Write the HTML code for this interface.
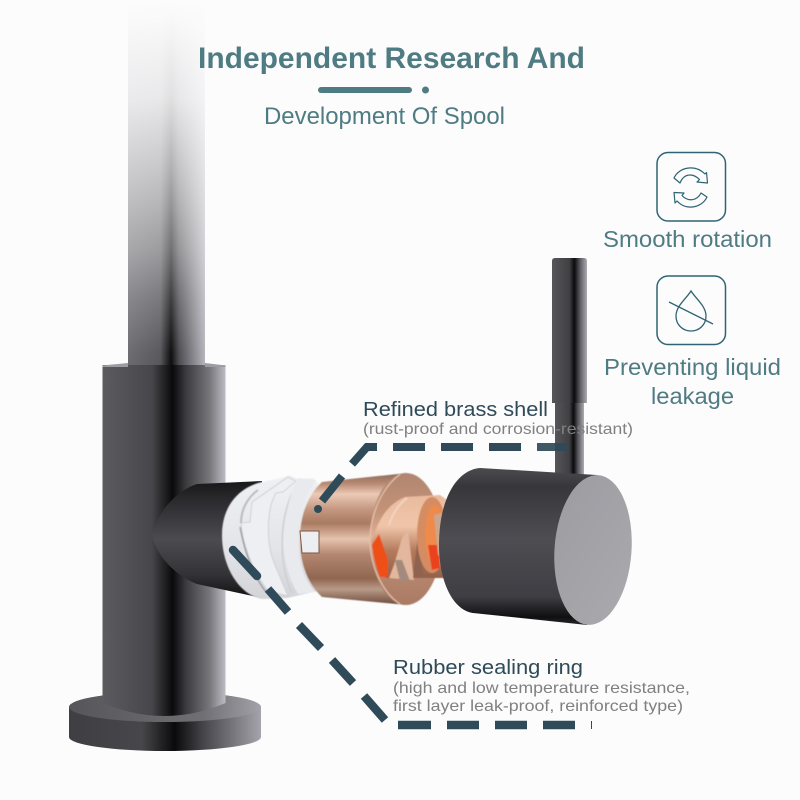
<!DOCTYPE html>
<html><head><meta charset="utf-8"><style>
html,body{margin:0;padding:0;background:#fcfcfd}
svg{display:block}
text{font-family:"Liberation Sans",sans-serif}
</style></head><body>
<svg width="800" height="800" viewBox="0 0 800 800" xmlns="http://www.w3.org/2000/svg">
<defs>
<linearGradient id="sp" x1="0" x2="1" y1="0" y2="0"><stop offset="0" stop-color="#6a6a6f"/><stop offset=".42" stop-color="#56565b"/><stop offset=".56" stop-color="#0b0b0d"/><stop offset=".66" stop-color="#4a4a4f"/><stop offset="1" stop-color="#b4b4bb"/></linearGradient>
<linearGradient id="fade" x1="0" x2="0" y1="0" y2="1">
<stop offset="0" stop-color="#fcfcfd" stop-opacity="1"/>
<stop offset=".06" stop-color="#fcfcfd" stop-opacity=".98"/>
<stop offset=".27" stop-color="#fcfcfd" stop-opacity=".88"/>
<stop offset=".46" stop-color="#fcfcfd" stop-opacity=".68"/>
<stop offset=".55" stop-color="#fcfcfd" stop-opacity=".58"/>
<stop offset=".68" stop-color="#fcfcfd" stop-opacity=".42"/>
<stop offset=".82" stop-color="#fcfcfd" stop-opacity=".2"/>
<stop offset=".96" stop-color="#fcfcfd" stop-opacity=".02"/>
<stop offset="1" stop-color="#fcfcfd" stop-opacity="0"/>
</linearGradient>
<linearGradient id="bd" x1="0" x2="1" y1="0" y2="0"><stop offset="0" stop-color="#5c5c60"/><stop offset=".4" stop-color="#47474b"/><stop offset=".57" stop-color="#0a0a0c"/><stop offset=".68" stop-color="#3b3b40"/><stop offset=".87" stop-color="#76767b"/><stop offset="1" stop-color="#bcbcc2"/></linearGradient>
<linearGradient id="ba" x1="0" x2="1" y1="0" y2="0"><stop offset="0" stop-color="#3f3f43"/><stop offset=".38" stop-color="#47474b"/><stop offset=".55" stop-color="#0a0a0c"/><stop offset=".7" stop-color="#45454a"/><stop offset="1" stop-color="#a4a4aa"/></linearGradient>
<linearGradient id="bt" x1="0" x2="1" y1="0" y2="0"><stop offset="0" stop-color="#55555a"/><stop offset=".7" stop-color="#6f6f74"/><stop offset="1" stop-color="#a2a2a8"/></linearGradient>
<linearGradient id="cn" x1="0" x2="0" y1="0" y2="1"><stop offset="0" stop-color="#18181a"/><stop offset=".18" stop-color="#2c2c30"/><stop offset=".5" stop-color="#4b4b50"/><stop offset=".8" stop-color="#333337"/><stop offset="1" stop-color="#111113"/></linearGradient>
<linearGradient id="cu" gradientUnits="userSpaceOnUse" x1="0" x2="0" y1="473" y2="605"><stop offset="0" stop-color="#8d6a58"/><stop offset=".08" stop-color="#b78a73"/><stop offset=".16" stop-color="#eccab6"/><stop offset=".27" stop-color="#c59a82"/><stop offset=".38" stop-color="#a97a61"/><stop offset=".5" stop-color="#e6c2ad"/><stop offset=".62" stop-color="#b28670"/><stop offset=".8" stop-color="#90664f"/><stop offset=".88" stop-color="#b99a88"/><stop offset="1" stop-color="#6c4a3a"/></linearGradient>
<linearGradient id="dc" gradientUnits="userSpaceOnUse" x1="0" x2="0" y1="473" y2="605"><stop offset="0" stop-color="#b08570"/><stop offset=".3" stop-color="#c49478"/><stop offset=".48" stop-color="#e0b094"/><stop offset=".72" stop-color="#b98870"/><stop offset="1" stop-color="#a97a64"/></linearGradient>
<linearGradient id="cs" gradientUnits="userSpaceOnUse" x1="0" x2="0" y1="497" y2="580"><stop offset="0" stop-color="#eabb9e"/><stop offset=".35" stop-color="#f0c6aa"/><stop offset=".65" stop-color="#b4795c"/><stop offset="1" stop-color="#8f6049"/></linearGradient>
<linearGradient id="hd" x1="0" x2="0" y1="0" y2="1"><stop offset="0" stop-color="#4a4a4f"/><stop offset=".12" stop-color="#37373b"/><stop offset=".45" stop-color="#4d4d52"/><stop offset=".82" stop-color="#3e3e43"/><stop offset=".95" stop-color="#0f0f11"/><stop offset="1" stop-color="#2a2a2d"/></linearGradient>
<linearGradient id="lv" x1="0" x2="1" y1="0" y2="0"><stop offset="0" stop-color="#55555a"/><stop offset=".5" stop-color="#3f3f44"/><stop offset=".64" stop-color="#0b0b0d"/><stop offset=".8" stop-color="#5a5a60"/><stop offset="1" stop-color="#acacb2"/></linearGradient>
<linearGradient id="fc" x1="0" x2="1" y1="0" y2="1"><stop offset="0" stop-color="#9c9ca1"/><stop offset="1" stop-color="#a9a9ae"/></linearGradient>
<linearGradient id="wh" x1="0" x2="0" y1="0" y2="1"><stop offset="0" stop-color="#f0f1f4"/><stop offset=".6" stop-color="#e3e4e8"/><stop offset="1" stop-color="#d3d4d8"/></linearGradient>
<filter id="sf" x="-5%" y="-5%" width="110%" height="110%"><feGaussianBlur stdDeviation=".6"/></filter>
</defs>

<rect width="800" height="800" fill="#fcfcfd"/>

<!-- spout -->
<rect x="128" y="0" width="77" height="368" fill="url(#sp)"/>
<rect x="128" y="0" width="77" height="368" fill="url(#fade)"/>

<!-- base -->
<path d="M69 707 A96 15 0 0 1 261 707 L261 737 A96 14 0 0 1 69 737Z" fill="url(#ba)"/>
<ellipse cx="165" cy="707" rx="96" ry="15" fill="url(#bt)"/>
<!-- body -->
<path d="M102.500 365 L225.500 365 L225.500 703 Q165 729 102.500 703Z" fill="url(#bd)"/>
<path d="M102.500 365.500 Q128 363 128 363 L128 367 L102.500 367Z M205 363 L225.500 365.500 L225.500 367 L205 367Z" fill="#9c9ca2"/>

<!-- dark connector -->
<path d="M152 535 C158 510 178 490 197 484 L262 481 L262 598 L197 584 C176 576 156 556 152 535Z" fill="url(#cn)"/>

<!-- white sealing ring -->
<g filter="url(#sf)">
<path d="M222 535 C222 505 240 487 262 482 L285 477 L290 475 L297 479 L313 478 L318 483 L322 590 L300 595 L287 598 L262 599 C240 595 222 568 222 535Z" fill="url(#wh)"/>
<path d="M241 523 C241 510 247 498 258 490" fill="none" stroke="#b9bac0" stroke-width="2"/>
<path d="M241 523 L250 522 L252 502 L288 477 L296 481 L283 492 L276 493 C266 510 266 545 275 565 L288 596 L268 591 C252 570 243 545 241 523Z" fill="#eeeff2" stroke="#c8c9ce" stroke-width=".8"/>
<path d="M300 480 C280 505 276 560 292 593" fill="none" stroke="#cdced3" stroke-width="1.500"/>
<path d="M240 527 C245 555 255 578 266 592" fill="none" stroke="#55565c" stroke-width="1.200" opacity=".6"/>
<path d="M297 478 L316 480 C304 496 298 516 298 540 C298 562 304 582 316 592 L298 594 C287 575 283 555 284 535 C285 515 290 495 297 478Z" fill="#e9eaee"/>
</g>

<!-- copper cylinder -->
<g filter="url(#sf)">
<path d="M322 482 L407 473 L407 605 L322 597 C306 582 300 560 300 540 C300 515 308 495 322 482Z" fill="url(#cu)"/>
<ellipse cx="406" cy="539" rx="36" ry="66" fill="url(#dc)"/>
<path d="M400 474.500 C382 487 370 515 370 540 C370 565 382 592 400 604" fill="none" stroke="#e6c1ab" stroke-width="1.200"/>
<path d="M372 543 C376 525 385 505 405 497 L440 495 L447 500 L447 578 L420 578 L386 578 Q374 565 372 543Z" fill="url(#cs)"/>
<path d="M372 545 L379 534 L388 560 L388 577 L380 577 Q374 562 372 545Z" fill="#ee4f14"/>
<path d="M389 578 L394 565 L402 538 L408 530 L414 580Z" fill="#e3b79e"/>
<path d="M395 560 L402 560 L410 581 L400 581Z" fill="#a38a7c"/>
<path d="M413 578 L418 535 L424 578Z" fill="#8f6450"/>
<path d="M407 498 C398 505 392 515 389 525" fill="none" stroke="#f2d4c0" stroke-width="2"/>
<ellipse cx="432" cy="535" rx="15" ry="38" fill="#d58c62"/>
<ellipse cx="435" cy="535" rx="10" ry="30" fill="#ee8a4c"/>
<path d="M428 545 L438 545 L440 568 L432 570Z" fill="#e9421a"/>
<path d="M434 515 L447 512 L447 560 L438 555Z" fill="#c9a78f"/>
</g>
<!-- notch -->
<path d="M300 531 L319 531 L319 553 L302 553Z" fill="#eceef1" stroke="#7a5643" stroke-width="1"/>

<!-- lever -->
<path d="M555 403 L584 403 L584 482 L555 482Z" fill="url(#lv)"/>
<path d="M552 261 Q552 258 555 258 L584 258 Q587 258 587 261 L587 403 L552 403Z" fill="url(#lv)"/>

<!-- handle -->
<path d="M597 475 L480 468 C456 470 439 500 439 545 C439 580 452 610 473 613 L587 625Z" fill="url(#hd)"/>
<ellipse cx="593" cy="550" rx="38.500" ry="75" transform="rotate(4 593 550)" fill="url(#fc)"/>

<!-- dashes top callout -->
<g stroke="#2f4a58" stroke-width="8" fill="none">
<line x1="393" y1="447" x2="425" y2="447"/>
<line x1="441" y1="447" x2="473" y2="447"/>
<line x1="489" y1="447" x2="521" y2="447"/>
<line x1="537" y1="447" x2="568" y2="447" opacity=".92"/>
<path d="M377 447 L367 447 L352 464"/>
<line x1="342" y1="476" x2="322" y2="501"/>
</g>
<circle cx="318" cy="509" r="4" fill="#2f4a58"/>

<!-- dashes bottom callout -->
<g stroke="#2f4a58" stroke-width="8.500" fill="none">
<line x1="233" y1="550" x2="257" y2="576" stroke-linecap="round"/>
<line x1="268" y1="589" x2="288" y2="612"/>
<line x1="299" y1="625" x2="321" y2="648"/>
<line x1="332" y1="660" x2="353" y2="683"/>
<line x1="364" y1="696" x2="385" y2="720"/>
<line x1="398" y1="725" x2="431" y2="725"/>
<line x1="447" y1="725" x2="479" y2="725"/>
<line x1="495" y1="725" x2="527" y2="725"/>
<line x1="543" y1="725" x2="575" y2="725"/>
</g>
<line x1="591.500" y1="721" x2="591.500" y2="729" stroke="#2f4a58" stroke-width="1"/>

<!-- title -->
<text x="198" y="68" font-size="30" font-weight="bold" fill="#4f7b82" textLength="387" lengthAdjust="spacingAndGlyphs">Independent Research And</text>
<rect x="318" y="87" width="94" height="6" rx="3" fill="#4f7b82"/>
<circle cx="425.500" cy="90" r="3.500" fill="#4f7b82"/>
<text x="264" y="124" font-size="24" fill="#4f7b82" textLength="241" lengthAdjust="spacingAndGlyphs">Development Of Spool</text>

<!-- icons -->
<rect x="657" y="152.500" width="68.500" height="68.500" rx="11" fill="none" stroke="#2f6472" stroke-width="1.500"/>
<rect x="657" y="276" width="68.500" height="68.500" rx="11" fill="none" stroke="#2f6472" stroke-width="1.500"/>
<path d="M674 178 C679 167 695 164 705 174 L706.500 172.500 L707.500 183 L697 182 L699.500 179.500 C693 173 684 173 680 183Z" fill="none" stroke="#2f6472" stroke-width="1.200" stroke-linejoin="round"/>
<path d="M707 197 C702 208 686 211 677 201 L675 203 L674 192.500 L684 193 L682 195.500 C688 202 697 201 701 193Z" fill="none" stroke="#2f6472" stroke-width="1.200" stroke-linejoin="round"/>
<path d="M691 291 C686 299 676 306 676 316 C676 325 683 331 691 331 C699 331 706 325 706 316 C706 306 696 299 691 291Z" fill="none" stroke="#2f6472" stroke-width="1.300"/>
<line x1="669" y1="302" x2="713" y2="324" stroke="#2f6472" stroke-width="1.300"/>

<text x="603" y="247" font-size="23" fill="#4f7b82" textLength="169" lengthAdjust="spacingAndGlyphs">Smooth rotation</text>
<text x="604" y="375" font-size="23" fill="#4f7b82" textLength="177" lengthAdjust="spacingAndGlyphs">Preventing liquid</text>
<text x="651" y="404" font-size="23" fill="#4f7b82" textLength="83" lengthAdjust="spacingAndGlyphs">leakage</text>

<!-- labels -->
<text x="363" y="416" font-size="20.500" fill="#2f4a58" textLength="185" lengthAdjust="spacingAndGlyphs">Refined brass shell</text>
<text x="363" y="434" font-size="16" fill="#808080" textLength="270" lengthAdjust="spacingAndGlyphs">(rust-proof and corrosion-resistant)</text>
<text x="393" y="674" font-size="20.500" fill="#2f4a58" textLength="190" lengthAdjust="spacingAndGlyphs">Rubber sealing ring</text>
<text x="393" y="693" font-size="16" fill="#808080" textLength="297" lengthAdjust="spacingAndGlyphs">(high and low temperature resistance,</text>
<text x="393" y="711" font-size="16" fill="#808080" textLength="290" lengthAdjust="spacingAndGlyphs">first layer leak-proof, reinforced type)</text>
</svg>
</body></html>
